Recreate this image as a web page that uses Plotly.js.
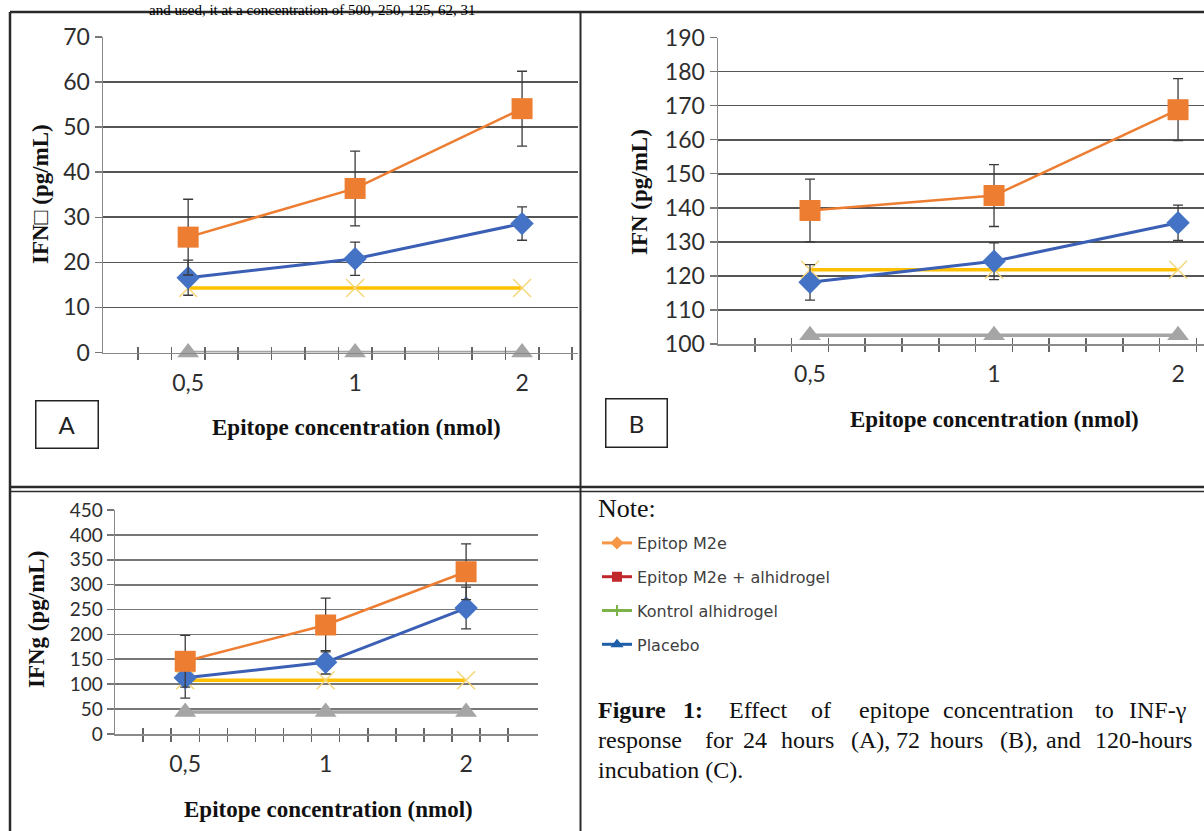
<!DOCTYPE html>
<html><head><meta charset="utf-8">
<script src="https://cdn.plot.ly/plotly-3.0.1.min.js"></script>
<style>html,body{margin:0;padding:0;background:#fff}#chart{width:1204px;height:831px}</style>
</head><body><div id="chart"></div>
<script>
// ---------- data ----------
const concLabels = ['0,5', '1', '2'];

// Panel A: 24 h
const aSquare = [25.6, 36.4, 54.1];
const aSquareErr = [8.4, 8.3, 8.3];
const aDiamond = [16.6, 20.8, 28.6];
const aDiamondErr = [3.9, 3.7, 3.7];
const aCross = [14.3, 14.3, 14.3];
const aTriangle = [0, 0, 0];

// Panel B: 72 h
const bSquare = [139.2, 143.6, 168.8];
const bSquareErr = [9.2, 9.1, 9.1];
const bDiamond = [118.1, 124.3, 135.6];
const bDiamondErr = [5.2, 5.4, 5.2];
const bCross = [121.8, 121.8, 121.8];
const bTriangle = [102.6, 102.6, 102.6];

// Panel C: 120 h
const cSquare = [146, 219, 326];
const cSquareErr = [52, 54, 56];
const cDiamond = [113, 144, 253];
const cDiamondErr = [41, 23.5, 42];
const cCross = [108, 108, 108];
const cTriangle = [44, 44, 44];

// Legend (Note) entries
const legendNames = ['Epitop M2e', 'Epitop M2e + alhidrogel', 'Kontrol alhidrogel', 'Placebo'];
const legendColors = ['#F79646', '#C0282D', '#7DB24A', '#1F5FA8'];
const legendSymbols = ['diamond', 'square', 'cross-thin-open', 'triangle-up'];

// ---------- helpers ----------
const W = 1204, H = 831;
const px = x => x / W;
const py = y => 1 - y / H;
const xi = concLabels.map((_, i) => i);
const tickMarks = [-0.3, -0.1, 0.1, 0.3, 0.5, 0.7, 0.9, 1.1, 1.3, 1.5, 1.7, 1.9, 2.1, 2.3];

const ORANGE = '#ED7D31', BLUE = '#4472C4', YELLOW = '#FFC000', GRAY = '#A5A5A5';
const errStyle = arr => ({type: 'data', array: arr, visible: true, color: '#3a3a3a', thickness: 1.3, width: 5});

function panel(xa, ya, sq, sqErr, di, diErr, cr, tr) {
  return [
    {x: xi, y: tr, xaxis: xa, yaxis: ya, mode: 'lines+markers', showlegend: false, cliponaxis: false,
     line: {color: GRAY, width: 3.5}, marker: {symbol: 'triangle-up', size: 19, color: GRAY}},
    {x: xi, y: cr, xaxis: xa, yaxis: ya, mode: 'lines+markers', showlegend: false, cliponaxis: false,
     line: {color: YELLOW, width: 3.5}, marker: {symbol: 'x-thin-open', size: 18, color: '#F5D67A', line: {color: '#F5D67A', width: 1.5}}},
    {x: xi, y: di, xaxis: xa, yaxis: ya, mode: 'lines+markers', showlegend: false, cliponaxis: false,
     error_y: errStyle(diErr),
     line: {color: '#3A5FB5', width: 3}, marker: {symbol: 'diamond', size: 18, color: BLUE}},
    {x: xi, y: sq, xaxis: xa, yaxis: ya, mode: 'lines+markers', showlegend: false, cliponaxis: false,
     error_y: errStyle(sqErr),
     line: {color: ORANGE, width: 2.5}, marker: {symbol: 'square', size: 21, color: ORANGE}}
  ];
}

const traces = [
  ...panel('x', 'y', aSquare, aSquareErr, aDiamond, aDiamondErr, aCross, aTriangle),
  ...panel('x2', 'y2', bSquare, bSquareErr, bDiamond, bDiamondErr, bCross, bTriangle),
  ...panel('x3', 'y3', cSquare, cSquareErr, cDiamond, cDiamondErr, cCross, cTriangle),
  // dummy traces to realise overlay tick axes
  {x: [null], y: [null], xaxis: 'x4', yaxis: 'y', showlegend: false, hoverinfo: 'skip'},
  {x: [null], y: [null], xaxis: 'x5', yaxis: 'y2', showlegend: false, hoverinfo: 'skip'},
  {x: [null], y: [null], xaxis: 'x6', yaxis: 'y3', showlegend: false, hoverinfo: 'skip'}
];
legendNames.forEach((name, i) => {
  traces.push({x: [null], y: [null], xaxis: 'x', yaxis: 'y', name: name, legendgroup: 'g' + i,
    mode: 'lines+markers', line: {color: legendColors[i], width: 3},
    marker: {symbol: legendSymbols[i], size: 8, color: legendColors[i], line: {color: legendColors[i], width: 2}}});
});

const tickFont = {family: 'Lato', size: 23, color: '#2e2e2e'};
function xAxis(domain, range, anchor) {
  return {domain, range, anchor, tickmode: 'array', tickvals: xi, ticktext: concLabels, ticks: '',
    showgrid: false, zeroline: false, showline: true, linecolor: '#8a8a8a', linewidth: 1.5,
    tickfont: tickFont, ticklabelstandoff: 9,
    minor: {tickmode: 'array', tickvals: tickMarks, ticks: 'outside', ticklen: 6, tickcolor: '#666', tickwidth: 1.5, showgrid: false}};
}
function xOverlay(over, range, anchor) {
  return {overlaying: over, anchor, range, tickmode: 'array', tickvals: tickMarks, ticktext: tickMarks.map(() => ''),
    ticks: 'inside', ticklen: 6, tickcolor: '#666', tickwidth: 1.5, showticklabels: false,
    showline: false, showgrid: false, zeroline: false};
}
function yAxis(domain, range, dtick, anchor, fontSize) {
  return {domain, range, anchor, tick0: 0, dtick, ticks: 'outside', ticklen: 7, tickcolor: '#777', tickwidth: 1.5,
    showgrid: true, gridcolor: '#555555', gridwidth: 1.7, zeroline: false, showline: true,
    linecolor: '#8a8a8a', linewidth: 1.5, tickfont: Object.assign({}, tickFont, {size: fontSize})};
}

const rangeA = [-0.51, 2.335], rangeB = [-0.5, 2.141], rangeC = [-0.5, 2.512];

const serif = 'Liberation Serif, Times New Roman, serif';
const titleFont = {family: serif, size: 23, color: '#111'};
const annotations = [
  {text: 'and used, it at a concentration of 500, 250, 125, 62, 31', xref: 'paper', yref: 'paper',
   x: px(478), y: py(0), xanchor: 'right', yanchor: 'top', showarrow: false, font: {family: serif, size: 15, color: '#000'}},
  // axis titles
  {text: '<b>Epitope concentration (nmol)</b>', xref: 'paper', yref: 'paper', x: px(356), y: py(427), xanchor: 'center', yanchor: 'middle', showarrow: false, font: titleFont},
  {text: '<b>Epitope concentration (nmol)</b>', xref: 'paper', yref: 'paper', x: px(995), y: py(419), xanchor: 'center', yanchor: 'middle', showarrow: false, font: titleFont},
  {text: '<b>Epitope concentration (nmol)</b>', xref: 'paper', yref: 'paper', x: px(328), y: py(809), xanchor: 'center', yanchor: 'middle', showarrow: false, font: titleFont},
  {text: '<b>IFN\u25A1 (pg/mL)</b>', xref: 'paper', yref: 'paper', x: px(40), y: py(194), xanchor: 'center', yanchor: 'middle', textangle: -90, showarrow: false, font: titleFont},
  {text: '<b>IFN (pg/mL)</b>', xref: 'paper', yref: 'paper', x: px(640), y: py(192), xanchor: 'center', yanchor: 'middle', textangle: -90, showarrow: false, font: titleFont},
  {text: '<b>IFNg (pg/mL)</b>', xref: 'paper', yref: 'paper', x: px(36), y: py(620), xanchor: 'center', yanchor: 'middle', textangle: -90, showarrow: false, font: titleFont},
  // panel labels
  {text: 'A', xref: 'paper', yref: 'paper', x: px(66.5), y: py(424), xanchor: 'center', yanchor: 'middle', showarrow: false,
   width: 59, height: 44, bordercolor: '#222', borderwidth: 1.5, font: {family: 'Lato', size: 24, color: '#222'}},
  {text: 'B', xref: 'paper', yref: 'paper', x: px(636), y: py(422.5), xanchor: 'center', yanchor: 'middle', showarrow: false,
   width: 58, height: 45, bordercolor: '#222', borderwidth: 1.5, font: {family: 'Lato', size: 24, color: '#222'}},
  // note heading
  {text: 'Note:', xref: 'paper', yref: 'paper', x: px(596), y: py(508), xanchor: 'left', yanchor: 'middle', showarrow: false, font: {family: serif, size: 26, color: '#111'}}
];

// caption, justified word by word
const capFont = {family: serif, size: 24, color: '#111'};
const capLines = [
  {y: 710, words: [['<b>Figure</b>', 596], ['<b>1:</b>', 681], ['Effect', 727], ['of', 809], ['epitope', 857], ['concentration', 941], ['to', 1093], ['INF-\u03B3', 1127]]},
  {y: 740, words: [['response', 596], ['for', 703], ['24', 741], ['hours', 779], ['(A),', 849], ['72', 894], ['hours', 928], ['(B),', 998], ['and', 1044], ['120-hours', 1093]]},
  {y: 770, words: [['incubation (C).', 596]]}
];
capLines.forEach(line => line.words.forEach(([t, x]) => annotations.push({
  text: t, xref: 'paper', yref: 'paper', x: px(x), y: py(line.y), xanchor: 'left', yanchor: 'middle', showarrow: false, font: capFont})));

const lineStyle = (w) => ({color: '#2a2a2a', width: w});
const shapes = [
  {type: 'line', xref: 'paper', yref: 'paper', x0: px(10), x1: px(1204), y0: py(12), y1: py(12), line: lineStyle(2.5)},
  {type: 'line', xref: 'paper', yref: 'paper', x0: px(10), x1: px(10), y0: py(12), y1: py(831), line: lineStyle(2.5)},
  {type: 'line', xref: 'paper', yref: 'paper', x0: px(580.5), x1: px(580.5), y0: py(12), y1: py(831), line: lineStyle(2)},
  {type: 'line', xref: 'paper', yref: 'paper', x0: px(10), x1: px(1204), y0: py(487), y1: py(487), line: lineStyle(2.5)},
  {type: 'line', xref: 'paper', yref: 'paper', x0: px(10), x1: px(1204), y0: py(491.5), y1: py(491.5), line: lineStyle(1.5)}
];

const layout = {
  width: W, height: H, margin: {l: 0, r: 0, t: 0, b: 0},
  paper_bgcolor: '#fff', plot_bgcolor: 'rgba(0,0,0,0)',
  showlegend: true,
  legend: {x: px(597), y: py(526), xanchor: 'left', yanchor: 'top', traceorder: 'grouped', tracegroupgap: 10,
    font: {family: 'DejaVu Sans', size: 16, color: '#404040'}, bgcolor: 'rgba(0,0,0,0)', itemwidth: 30},
  xaxis: xAxis([px(103), px(578)], rangeA, 'y'),
  yaxis: yAxis([py(352.5), py(37)], [0, 70], 10, 'x', 23),
  xaxis2: xAxis([px(718), 1], rangeB, 'y2'),
  yaxis2: yAxis([py(344), py(37.5)], [100, 190], 10, 'x2', 23),
  xaxis3: xAxis([px(115), px(538)], rangeC, 'y3'),
  yaxis3: yAxis([py(734), py(510)], [0, 450], 50, 'x3', 19),
  xaxis4: xOverlay('x', rangeA, 'y'),
  xaxis5: xOverlay('x2', rangeB, 'y2'),
  xaxis6: xOverlay('x3', rangeC, 'y3'),
  annotations, shapes
};
layout.yaxis3.gridcolor = '#777777';

Plotly.newPlot('chart', traces, layout, {displayModeBar: false, staticPlot: true});
</script></body></html>
